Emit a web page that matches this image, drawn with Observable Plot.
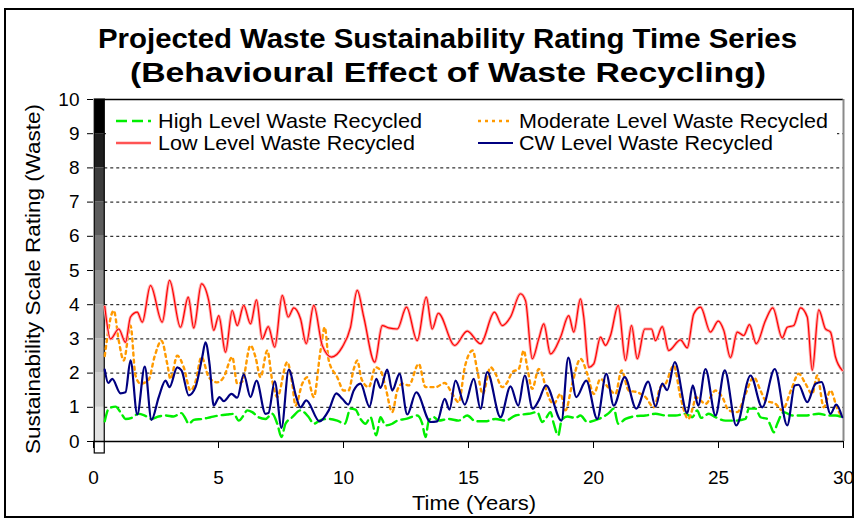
<!DOCTYPE html>
<html><head><meta charset="utf-8">
<script src="https://cdn.jsdelivr.net/npm/d3@7"></script>
<script src="https://cdn.jsdelivr.net/npm/@observablehq/plot@0.6"></script>
<style>
body{margin:0;background:#fff;}
#wrap{position:relative;width:857px;height:519px;overflow:hidden;font-family:"Liberation Sans",Arial,sans-serif;background:#fff;}
#chart svg{position:absolute;left:0;top:0;}
</style></head><body>
<div id="wrap"><div id="chart"></div></div>
<script>
const titleLines = ["Projected Waste Sustainability Rating Time Series", "(Behavioural Effect of Waste Recycling)"];
const xLabel = "Time (Years)";
const yLabel = "Sustainability Scale Rating (Waste)";
const xTicks = [0, 5, 10, 15, 20, 25, 30];
const yTicks = [0, 1, 2, 3, 4, 5, 6, 7, 8, 9, 10];
const gridLevels = [1, 2, 3, 4, 5, 6, 7, 8, 9];
const seriesNames = ["High Level Waste Recycled", "Moderate Level Waste Recycled", "Low Level Waste Recycled", "CW Level Waste Recycled"];
// grey scale bar (rating bands)
const bandLo = [-0.35, 0, 1, 2, 3, 4, 5, 6, 7, 8, 9];
const bandHi = [0, 1, 2, 3, 4, 5, 6, 7, 8, 9, 10];
const bandShade = ["#ffffff", "#e2e2e2", "#cdcdcd", "#b9b9b9", "#a3a3a3", "#8e8e8e", "#787878", "#5c5c5c", "#3c3c3c", "#1e1e1e", "#000000"];

const highLevel = [[0.45,0.59],[0.61,0.96],[0.88,1.02],[1.12,0.81],[1.28,0.66],[1.55,0.7],[1.79,0.81],[2.05,0.76],[2.32,0.66],[2.6,0.73],[2.88,0.76],[3.2,0.73],[3.52,0.83],[3.65,0.71],[3.81,0.52],[4.01,0.63],[4.35,0.66],[4.68,0.71],[5.01,0.76],[5.35,0.79],[5.61,0.81],[5.81,0.61],[6.0,0.76],[6.15,0.91],[6.35,0.86],[6.6,0.71],[6.88,0.66],[7.15,0.81],[7.35,0.52],[7.52,0.13],[7.68,0.52],[7.95,0.71],[8.28,0.91],[8.61,0.71],[8.81,0.52],[9.1,0.63],[9.41,0.66],[9.75,0.61],[10.05,0.52],[10.28,0.96],[10.48,0.93],[10.68,0.66],[10.88,0.52],[11.08,0.71],[11.31,0.18],[11.48,0.71],[11.68,0.47],[11.95,0.52],[12.15,0.61],[12.5,0.66],[12.95,0.76],[13.15,0.52],[13.28,0.13],[13.41,0.61],[13.61,0.71],[13.81,0.61],[14.2,0.66],[14.6,0.61],[14.95,0.76],[15.28,0.59],[15.68,0.59],[16.08,0.66],[16.48,0.61],[16.88,0.76],[17.41,0.81],[17.75,0.86],[17.95,0.57],[18.08,0.66],[18.28,0.86],[18.41,0.52],[18.59,0.18],[18.72,0.61],[18.95,0.73],[19.28,0.69],[19.48,0.76],[19.75,0.57],[20.21,0.66],[20.61,0.83],[20.81,0.96],[20.99,0.52],[21.28,0.66],[21.68,0.74],[22.08,0.76],[22.48,0.81],[22.88,0.76],[23.28,0.76],[23.68,0.81],[23.95,0.71],[24.15,0.91],[24.3,0.69],[24.61,0.81],[24.88,0.71],[25.28,0.61],[25.68,0.61],[26.08,0.66],[26.21,0.96],[26.48,0.96],[26.68,0.71],[26.95,0.66],[27.08,0.47],[27.21,0.27],[27.35,0.52],[27.61,0.86],[27.95,0.76],[28.48,0.76],[29.01,0.81],[29.41,0.76],[29.68,0.76],[29.95,0.71]];

const moderateLevel = [[0.45,2.5],[0.81,3.83],[1.01,2.95],[1.21,2.37],[1.48,3.39],[1.68,1.93],[1.88,1.69],[2.2,1.8],[2.45,2.5],[2.72,2.95],[2.95,2.27],[3.08,1.83],[3.35,2.51],[3.61,2.17],[3.88,1.49],[4.08,1.75],[4.32,2.47],[4.61,1.88],[4.95,1.73],[5.21,1.88],[5.55,2.47],[5.75,1.69],[5.95,1.75],[6.28,2.81],[6.48,2.47],[6.68,1.88],[6.95,2.66],[7.15,1.78],[7.35,1.3],[7.75,2.32],[7.95,1.69],[8.08,1.05],[8.35,1.69],[8.55,1.88],[8.81,1.3],[9.08,2.66],[9.25,3.34],[9.41,2.37],[9.75,1.88],[10.01,1.49],[10.2,1.49],[10.41,2.12],[10.55,2.37],[10.72,1.83],[11.01,1.59],[11.28,2.17],[11.48,2.08],[11.68,1.59],[11.95,0.86],[12.15,1.49],[12.35,1.69],[12.61,1.64],[13.01,2.27],[13.28,1.59],[13.68,1.59],[14.05,1.71],[14.35,1.39],[14.61,1.15],[14.85,2.17],[15.17,2.66],[15.35,2.08],[15.57,1.39],[15.88,2.17],[16.08,1.98],[16.35,1.59],[16.55,1.73],[16.75,2.03],[17.01,2.12],[17.21,2.66],[17.35,2.17],[17.55,1.54],[17.81,2.12],[18.0,1.83],[18.08,1.59],[18.41,1.1],[18.68,1.39],[18.88,0.91],[19.15,1.69],[19.48,2.42],[19.75,1.98],[20.01,1.39],[20.28,1.83],[20.58,1.59],[20.88,1.39],[21.12,2.08],[21.41,1.49],[21.75,1.44],[22.08,1.3],[22.41,1.0],[22.68,1.59],[22.88,1.69],[23.21,2.22],[23.48,1.3],[23.79,0.66],[24.01,1.1],[24.08,1.3],[24.28,1.2],[24.48,1.1],[24.88,1.49],[25.15,1.3],[25.41,0.91],[25.75,0.86],[26.08,1.39],[26.41,1.88],[26.68,1.49],[26.88,1.2],[27.28,1.1],[27.55,0.91],[27.9,1.5],[28.21,1.98],[28.48,1.69],[28.75,1.39],[28.95,1.93],[29.21,1.0],[29.48,1.49],[29.75,0.96],[29.95,0.71]];

const lowLevel = [[0.45,3.95],[0.68,3.0],[1.01,3.29],[1.28,2.9],[1.48,3.64],[1.75,3.78],[1.95,3.49],[2.28,4.56],[2.75,3.49],[3.04,4.71],[3.48,3.34],[3.79,4.22],[4.01,3.32],[4.32,4.61],[4.61,4.12],[4.81,3.25],[5.01,3.68],[5.28,2.61],[5.55,3.83],[5.75,3.39],[6.01,3.98],[6.28,3.44],[6.52,4.14],[6.75,3.0],[6.99,3.36],[7.25,2.76],[7.55,4.27],[7.79,3.64],[8.01,3.91],[8.28,3.59],[8.51,2.86],[8.81,3.98],[9.15,2.81],[9.52,2.47],[9.95,2.76],[10.28,3.34],[10.55,4.42],[10.81,3.64],[11.25,2.32],[11.55,3.39],[11.81,3.32],[12.15,3.29],[12.52,3.93],[12.95,2.95],[13.31,4.22],[13.55,3.29],[13.79,3.75],[14.45,2.81],[14.95,3.23],[15.48,2.86],[16.04,3.78],[16.35,3.39],[16.68,3.64],[17.08,4.32],[17.28,4.12],[17.55,2.42],[17.81,3.0],[18.01,3.44],[18.28,2.56],[18.68,3.05],[19.01,3.68],[19.21,3.2],[19.48,4.17],[19.61,3.64],[19.81,2.17],[20.01,2.27],[20.28,3.05],[20.48,2.81],[20.68,3.1],[20.99,3.98],[21.28,2.37],[21.52,3.39],[21.75,2.42],[22.05,3.29],[22.32,3.29],[22.48,2.95],[22.75,3.36],[23.01,2.66],[23.48,2.97],[23.75,2.74],[24.01,3.73],[24.28,3.93],[24.68,3.2],[24.99,3.52],[25.21,3.25],[25.48,2.45],[25.75,3.2],[26.01,3.1],[26.24,3.42],[26.51,2.86],[26.88,3.54],[27.17,3.91],[27.55,3.03],[27.75,3.34],[28.01,3.39],[28.28,3.91],[28.55,3.64],[28.75,2.08],[29.01,3.85],[29.28,3.29],[29.48,3.2],[29.68,2.47],[29.95,2.08]];

const cwLevel = [[0.45,2.1],[0.59,1.71],[0.75,1.83],[1.08,1.41],[1.28,1.44],[1.48,2.37],[1.75,0.79],[2.05,2.19],[2.32,0.63],[2.61,1.3],[2.88,1.78],[3.04,1.59],[3.35,2.17],[3.52,2.08],[3.81,1.35],[4.08,1.59],[4.35,2.47],[4.48,2.9],[4.64,2.27],[4.81,1.05],[5.04,1.3],[5.21,1.18],[5.52,1.39],[5.75,1.28],[6.01,1.96],[6.28,1.3],[6.52,1.78],[6.88,0.81],[7.0,0.83],[7.25,1.76],[7.52,0.4],[7.81,2.1],[8.11,1.3],[8.28,1.0],[8.51,1.2],[9.04,0.59],[9.41,0.91],[9.71,1.41],[9.95,1.25],[10.19,1.08],[10.41,1.49],[10.68,1.69],[11.04,1.02],[11.31,1.83],[11.48,1.57],[11.75,2.1],[11.95,1.49],[12.24,1.98],[12.55,0.79],[12.91,1.44],[13.48,0.57],[13.75,0.59],[14.05,1.25],[14.24,0.93],[14.48,1.78],[14.85,1.08],[15.21,1.83],[15.48,0.96],[15.75,2.03],[16.28,0.71],[16.68,1.61],[16.99,1.05],[17.25,1.93],[17.57,0.96],[17.81,1.2],[18.1,1.64],[18.72,0.61],[18.99,2.45],[19.31,1.3],[19.71,1.78],[20.15,0.66],[20.51,1.98],[20.81,1.05],[21.25,1.88],[21.71,0.96],[22.19,1.75],[22.48,1.02],[22.75,1.69],[22.95,1.5],[23.25,2.32],[23.75,0.83],[23.97,1.64],[24.19,1.05],[24.48,2.12],[24.88,0.76],[25.25,2.08],[25.71,0.47],[26.28,1.93],[26.75,1.0],[27.25,2.12],[27.75,0.47],[28.05,1.64],[28.2,1.66],[28.55,1.15],[28.88,1.69],[29.12,1.74],[29.48,0.81],[29.71,1.08],[29.95,0.71]];

const bands = bandLo.map((lo, i) => ({lo, hi: bandHi[i], shade: bandShade[i]}));
const fx = d => d[0], fy = d => d[1];
const plotStart = 0.45, barLeft = 0.05;

const styles = {
  high: {stroke: "#00ee00", strokeWidth: 2.4, strokeDasharray: "11,5"},
  moderate: {stroke: "#ff9a00", strokeWidth: 2.4, strokeDasharray: "3,4"},
  lowHalo: {stroke: "#ffa8a8", strokeWidth: 3},
  low: {stroke: "#ff0000", strokeWidth: 1.2},
  cw: {stroke: "#000080", strokeWidth: 2.2}
};

const chart = Plot.plot({
  width: 857, height: 519,
  marginLeft: 93, marginRight: 14, marginTop: 99, marginBottom: 78,
  x: {domain: [0, 30]},
  y: {domain: [0, 10]},
  color: {type: "identity"},
  style: {fontFamily: "Liberation Sans, Arial, sans-serif", fontSize: "19px", color: "#000", background: "transparent", overflow: "visible"},
  marks: [
    Plot.rect(bands, {x1: () => barLeft, x2: () => plotStart, y1: "lo", y2: "hi", fill: d => d.shade}),
    Plot.rect([{lo: bandLo[0], hi: 10}], {x1: () => barLeft, x2: () => plotStart, y1: "lo", y2: "hi", fill: "none", stroke: "#000", strokeWidth: 1.2}),
    Plot.ruleY(gridLevels, {x1: () => plotStart, x2: () => 30, stroke: "#000", strokeWidth: 1, strokeDasharray: "3,3"}),
    Plot.ruleY([10], {x1: () => plotStart, x2: () => 30, stroke: "#000", strokeWidth: 1.5}),
    Plot.ruleX([30], {y1: () => 0, y2: () => 10, stroke: "#8a8a8a", strokeWidth: 2}),
    Plot.line(highLevel, {x: fx, y: fy, curve: "monotone-x", ...styles.high}),
    Plot.line(moderateLevel, {x: fx, y: fy, curve: "monotone-x", ...styles.moderate}),
    Plot.line(lowLevel, {x: fx, y: fy, curve: "monotone-x", ...styles.lowHalo}),
    Plot.line(lowLevel, {x: fx, y: fy, curve: "monotone-x", ...styles.low}),
    Plot.line(cwLevel, {x: fx, y: fy, curve: "monotone-x", ...styles.cw}),
    Plot.ruleY([0], {x1: () => 0, x2: () => 30, stroke: "#000", strokeWidth: 1.5}),
    Plot.axisX({ticks: xTicks, tickSize: 7, tickPadding: 22, fontSize: 19, label: null}),
    Plot.axisY({ticks: yTicks, tickSize: 6, tickPadding: 8, fontSize: 19, label: null})
  ]
});
document.getElementById("chart").appendChild(chart);

const svg = d3.select(chart);
// outer chart border
svg.append("rect").attr("x", 5).attr("y", 9).attr("width", 848).attr("height", 508)
  .attr("fill", "none").attr("stroke", "#000").attr("stroke-width", 2);
// title
const titleSpec = [{cx: 447.5, y: 48, len: 699}, {cx: 448, y: 82, len: 636}];
titleLines.forEach((t, i) => {
  svg.append("text").attr("x", titleSpec[i].cx).attr("y", titleSpec[i].y).attr("text-anchor", "middle")
    .attr("font-size", 28).attr("font-weight", "bold").attr("fill", "#000")
    .attr("textLength", titleSpec[i].len).attr("lengthAdjust", "spacingAndGlyphs").text(t);
});
// axis titles
svg.append("text").attr("transform", "translate(33,279) rotate(-90)").attr("text-anchor", "middle")
  .attr("dy", "0.35em").attr("font-size", 21).attr("fill", "#000")
  .attr("textLength", 350).attr("lengthAdjust", "spacingAndGlyphs").text(yLabel);
svg.append("text").attr("x", 474).attr("y", 510).attr("text-anchor", "middle")
  .attr("font-size", 21).attr("fill", "#000")
  .attr("textLength", 124).attr("lengthAdjust", "spacingAndGlyphs").text(xLabel);
// legend
svg.append("rect").attr("x", 106).attr("y", 104).attr("width", 731).attr("height", 52).attr("fill", "#fff");
const legendItems = [
  {name: seriesNames[0], st: [styles.high], sx: 116, tx: 158, cy: 121, len: 264},
  {name: seriesNames[1], st: [styles.moderate], sx: 478, tx: 519, cy: 121, len: 309},
  {name: seriesNames[2], st: [styles.lowHalo, styles.low], sx: 116, tx: 158, cy: 143, len: 257},
  {name: seriesNames[3], st: [styles.cw], sx: 478, tx: 519, cy: 143, len: 254}
];
for (const it of legendItems) {
  for (const s of it.st) {
    svg.append("line").attr("x1", it.sx).attr("x2", it.sx + 35).attr("y1", it.cy).attr("y2", it.cy)
      .attr("stroke", s.stroke).attr("stroke-width", s.strokeWidth).attr("stroke-dasharray", s.strokeDasharray || null);
  }
  svg.append("text").attr("x", it.tx).attr("y", it.cy).attr("dy", "0.35em").attr("font-size", 21)
    .attr("text-anchor", "start").attr("fill", "#000")
    .attr("textLength", it.len).attr("lengthAdjust", "spacingAndGlyphs").text(it.name);
}
</script>
</body></html>
